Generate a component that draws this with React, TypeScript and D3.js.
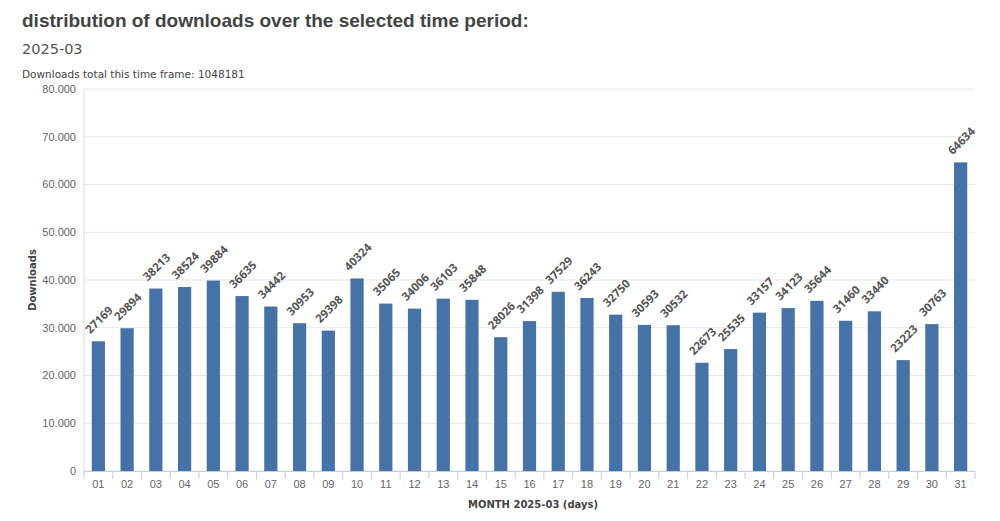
import { useEffect, useRef } from 'react';
import * as d3 from 'd3';

const days = ['01','02','03','04','05','06','07','08','09','10','11','12','13','14','15','16','17','18','19','20','21','22','23','24','25','26','27','28','29','30','31'];
const downloads = [27169,29894,38213,38524,39884,36635,34442,30953,29398,40324,35065,34006,36103,35848,28026,31398,37529,36243,32750,30593,30532,22673,25535,33157,34123,35644,31460,33440,23223,30763,64634];
const yTicks = [0,10000,20000,30000,40000,50000,60000,70000,80000];

export default function App() {
  const svgRef = useRef<SVGSVGElement>(null);

  useEffect(() => {
    if (!svgRef.current) return;
    const svg = d3.select(svgRef.current);
    svg.selectAll('*').remove();

    const margin = { top: 89, right: 25, bottom: 50, left: 84 };
    const width = 1000;
    const innerW = width - margin.left - margin.right;
    const innerH = 471 - margin.top;

    // header texts
    svg.append('text').attr('x', 22).attr('y', 27)
      .attr('font-family', 'Liberation Sans, Arial, sans-serif').attr('font-weight', 700)
      .attr('font-size', 19).attr('fill', '#444')
      .text('distribution of downloads over the selected time period:');
    svg.append('text').attr('x', 22).attr('y', 54)
      .attr('font-family', 'DejaVu Sans, sans-serif').attr('font-size', 14.5).attr('fill', '#555')
      .text('2025-03');
    svg.append('text').attr('x', 22).attr('y', 78)
      .attr('font-family', 'DejaVu Sans, sans-serif').attr('font-size', 10.5).attr('fill', '#444')
      .text('Downloads total this time frame: 1048181');

    const g = svg.append('g').attr('transform', `translate(${margin.left},${margin.top})`);

    const x = d3.scaleBand().domain(days).range([0, innerW]).paddingInner(0.54).paddingOuter(0.27);
    const xb = d3.scaleBand().domain(days).range([0, innerW]);
    const y = d3.scaleLinear().domain([0, 80000]).range([innerH, 0]);

    // gridlines
    g.append('g').selectAll('line').data(yTicks).join('line')
      .attr('x1', 0).attr('x2', innerW)
      .attr('y1', d => y(d)).attr('y2', d => y(d))
      .attr('stroke', '#e6e6e6');

    // y axis line
    g.append('line').attr('x1', 0).attr('x2', 0).attr('y1', 0).attr('y2', innerH).attr('stroke', '#ddd');

    // y labels, dot as thousands separator
    const fmt = (v: number) => v === 0 ? '0' : d3.format(',')(v).replace(/,/g, '.');
    g.append('g').selectAll('text').data(yTicks).join('text')
      .attr('x', -8).attr('y', d => y(d)).attr('dy', '0.35em')
      .attr('text-anchor', 'end')
      .attr('font-family', 'Liberation Sans, Arial, sans-serif').attr('font-size', 11).attr('fill', '#666')
      .text(fmt);

    // bars
    g.selectAll('.bar').data(downloads).join('rect')
      .attr('x', (_, i) => x(days[i])!)
      .attr('y', d => y(d))
      .attr('width', x.bandwidth())
      .attr('height', d => innerH - y(d))
      .attr('fill', '#4572a7');

    // x axis
    g.append('line').attr('x1', 0).attr('x2', innerW).attr('y1', innerH + 0.5).attr('y2', innerH + 0.5).attr('stroke', '#c0d0e0');
    const tickPos = [...days.map(d => xb(d)!), innerW];
    g.append('g').selectAll('line').data(tickPos).join('line')
      .attr('x1', d => d).attr('x2', d => d).attr('y1', innerH).attr('y2', innerH + 8)
      .attr('stroke', '#c0d0e0');
    g.append('g').selectAll('text').data(days).join('text')
      .attr('x', d => xb(d)! + xb.bandwidth() / 2).attr('y', innerH + 17)
      .attr('text-anchor', 'middle')
      .attr('font-family', 'Liberation Sans, Arial, sans-serif').attr('font-size', 11).attr('fill', '#666')
      .text(d => d);

    // value labels
    g.append('g').selectAll('text').data(downloads).join('text')
      .attr('transform', (d, i) => `translate(${x(days[i])! + x.bandwidth() / 2 - 8},${y(d) - 7}) rotate(-45)`)
      .attr('font-family', 'Open Sans, sans-serif').attr('font-weight', 700)
      .attr('font-size', 11.5).attr('fill', '#555')
      .text(d => d);

    // axis titles
    svg.append('text').attr('transform', `translate(36,${margin.top + innerH / 2}) rotate(-90)`)
      .attr('text-anchor', 'middle')
      .attr('font-family', 'DejaVu Sans, sans-serif').attr('font-weight', 700)
      .attr('font-size', 10).attr('fill', '#444')
      .text('Downloads');
    svg.append('text').attr('x', 533).attr('y', 508)
      .attr('text-anchor', 'middle')
      .attr('font-family', 'DejaVu Sans, sans-serif').attr('font-weight', 700)
      .attr('font-size', 10).attr('fill', '#444')
      .text('MONTH 2025-03 (days)');
  }, []);

  return (
    <svg ref={svgRef} width={1000} height={521}
      style={{ position: 'absolute', left: 0, top: 0, background: '#fff' }} />
  );
}
